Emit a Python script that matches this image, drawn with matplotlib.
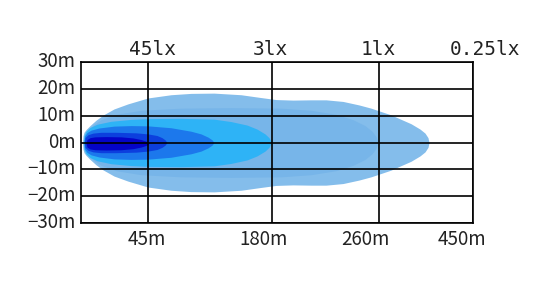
import matplotlib
matplotlib.use("Agg")
import matplotlib.pyplot as plt
import matplotlib.transforms as mtransforms
import numpy as np

# grid positions (axis units) and labels
x_grid = [67, 191, 298, 392]
x_label_pos = [66, 183, 284, 381]
x_labels = ["45m", "180m", "260m", "450m"]
y_ticks = [30, 20, 10, 0, -10, -20, -30]
y_labels = ["30m", "20m", "10m", "0m", "−10m", "−20m", "−30m"]
lux_pos = [72, 189, 297, 404]
lux_labels = ["45lx", "3lx", "1lx", "0.25lx"]

# beam contours: distance (axis units) and half width (m)
outer_x = [1.5, 2, 3, 5, 9, 15, 22, 33, 47, 67, 90, 110, 133, 160, 179, 195, 212,
           230, 245, 262, 278, 290, 298, 310, 319, 330, 339, 344, 347, 348]
outer_w = [0, 2.5, 3.8, 4.8, 6.3, 8.3, 10.2, 12.5, 14.4, 16.6, 17.8, 18.3, 18.4, 17.8,
           16.8, 16, 15.8, 15.9, 15.9, 15.3, 14, 12.8, 11.8, 10.3, 8.8, 7, 5, 3.5, 1.8, 0]
mid_x = [3, 4, 7, 12, 20, 35, 60, 100, 150, 200, 230, 255, 272, 284, 291, 295, 297]
mid_w = [0, 2.5, 4.5, 6.5, 8.5, 10.5, 12, 12.8, 13, 12.8, 12, 10.5, 8.5, 6.3, 4.2, 2.2, 0]
cyan_x = [2.5, 3, 5, 9, 16, 30, 50, 67, 100, 133, 150, 166, 176, 184, 188, 190.5]
cyan_w = [0, 2.5, 4.2, 5.6, 6.8, 7.9, 8.6, 8.9, 9.0, 8.7, 7.8, 6.5, 5.0, 3.2, 1.8, 0]
blue_x = [3, 3.5, 6, 10, 18, 33, 50, 67, 90, 110, 120, 127, 131, 133]
blue_w = [0, 2.3, 3.7, 4.6, 5.4, 6.1, 6.3, 6.2, 5.5, 4.2, 3.2, 2.0, 1.0, 0]
dark_x = [3.5, 4, 7, 12, 20, 35, 55, 67, 76, 81, 84, 86]
dark_w = [0, 1.8, 2.9, 3.5, 3.8, 3.8, 3.6, 3.2, 2.6, 1.8, 1.0, 0]
core_x = [5, 6, 9, 14, 25, 40, 52, 60, 65, 68]
core_w = [0, 1.4, 2.1, 2.4, 2.5, 2.4, 2.0, 1.4, 0.8, 0]

layers = [
    (outer_x, outer_w, "#84BDEB"),
    (mid_x, mid_w, "#77B5E9"),
    (cyan_x, cyan_w, "#2EB3F6"),
    (blue_x, blue_w, "#1C78EC"),
    (dark_x, dark_w, "#0C3FDE"),
    (core_x, core_w, "#0404C8"),
]

fig = plt.figure(figsize=(5.40, 2.81), dpi=100)
ax = fig.add_axes([81/540, 1 - 223/281, 392/540, 161/281])

for i, (xs, ws, c) in enumerate(layers):
    xs = np.array(xs, float)
    ws = np.array(ws, float)
    shift = -0.3 if i == 5 else 0.0
    ax.fill_between(xs, -ws + shift, ws + shift, color=c, linewidth=0, zorder=1)

ax.set_xlim(0, 392)
ax.set_ylim(-30, 30)
for t in y_ticks:
    ax.axhline(t, color="black", lw=1.2, zorder=3)
for t in x_grid:
    ax.axvline(t, color="black", lw=1.2, zorder=3)
for s in ax.spines.values():
    s.set_linewidth(1.2)
    s.set_zorder(4)

ax.set_xticks(x_label_pos)
ax.set_xticklabels(x_labels)
ax.set_yticks(y_ticks)
ax.set_yticklabels(y_labels)
ax.tick_params(length=0, labelsize=13.5, pad=4)
offset = mtransforms.ScaledTranslation(0, 3/100, fig.dpi_scale_trans)
for lab in ax.get_yticklabels():
    lab.set_transform(lab.get_transform() + offset)
for lab in ax.get_xticklabels() + ax.get_yticklabels():
    lab.set_fontfamily(["Noto Sans CJK SC", "DejaVu Sans"])
    lab.set_color("#222222")

for p, s in zip(lux_pos, lux_labels):
    ax.text(p, 31.0, s, ha="center", va="bottom", fontsize=14,
            family=["DejaVu Sans Mono"], color="#222222", clip_on=False)

fig.savefig("out.png", dpi=100, facecolor="white")
